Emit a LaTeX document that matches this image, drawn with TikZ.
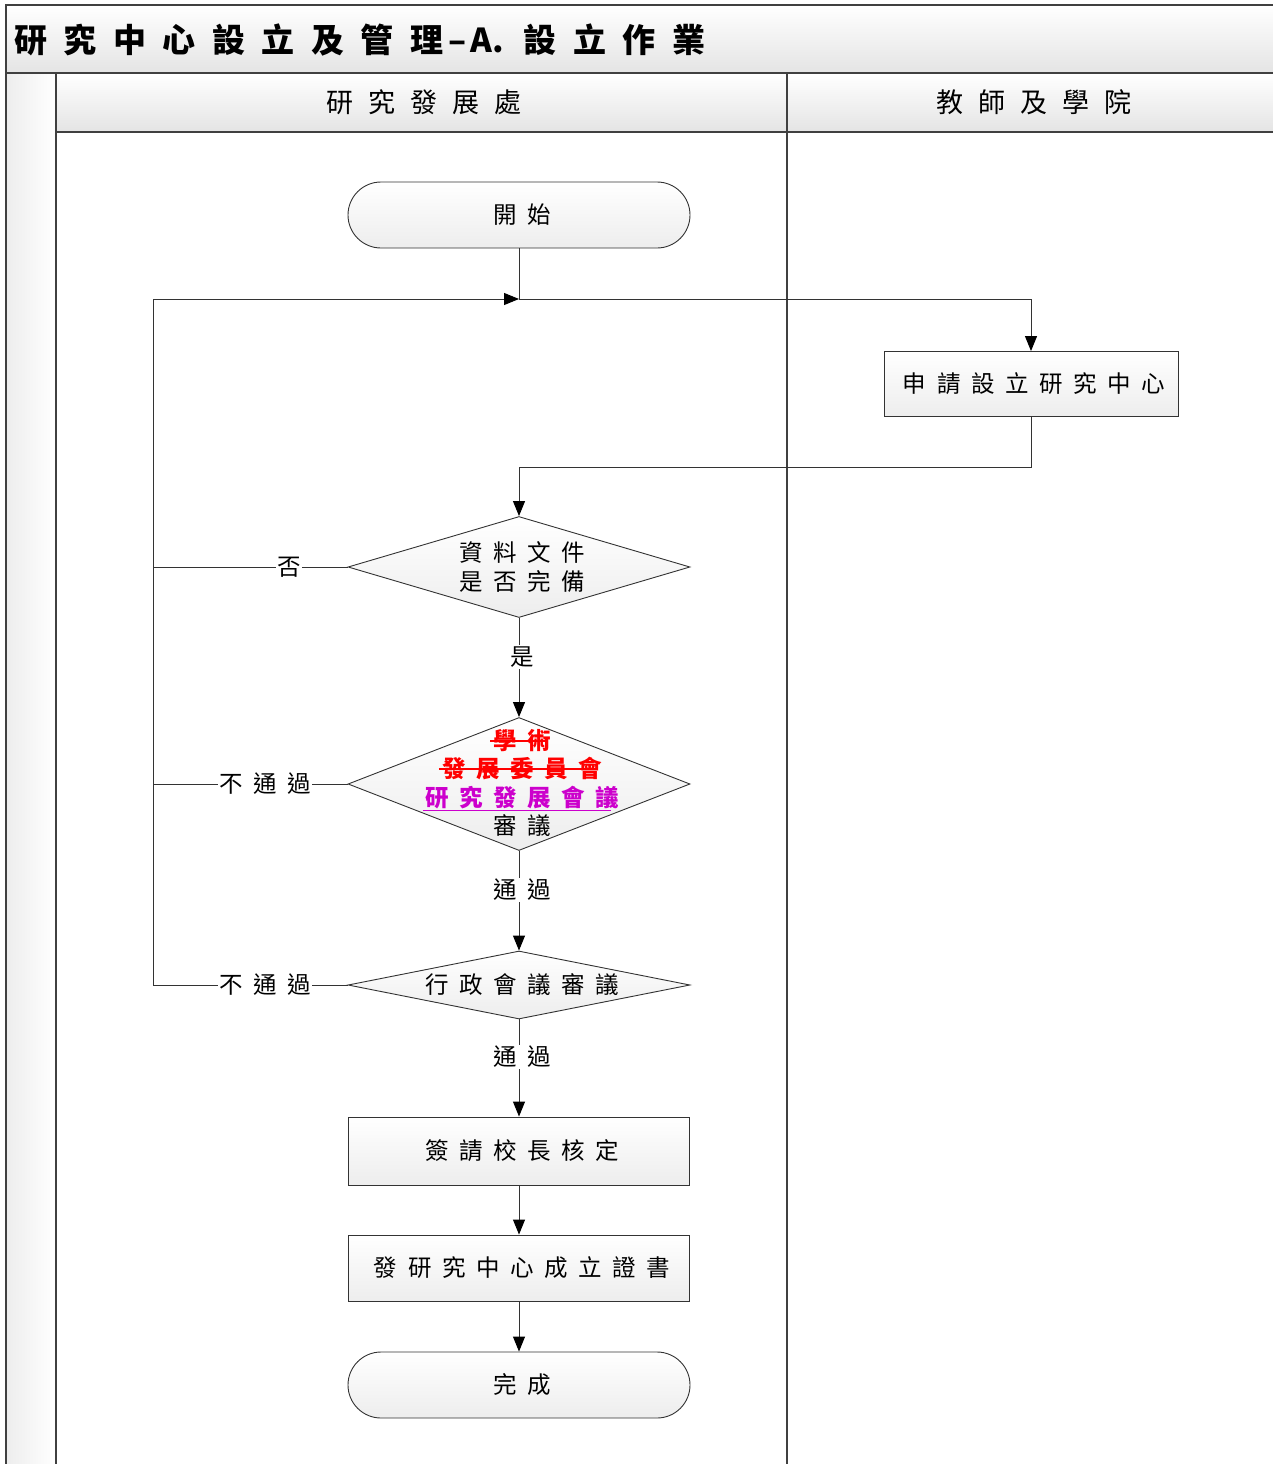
\documentclass[tikz,border=0pt]{standalone}
\usepackage{fontspec}
\usetikzlibrary{shapes.geometric,arrows.meta,calc}
\newfontfamily\cjk[LetterSpace=45]{Noto Sans CJK TC}
\newfontfamily\cjkplain{Noto Sans CJK TC}
\newfontfamily\cjktitle[LetterSpace=50]{Noto Sans CJK TC}
\newfontfamily\cjkhead[LetterSpace=55]{Noto Sans CJK TC}
\definecolor{edge}{HTML}{404040}
\definecolor{shadeB}{HTML}{E4E4E4}
\definecolor{shapeB}{HTML}{EDEDED}
\definecolor{mag}{HTML}{CC00CC}
\begin{document}
\begin{tikzpicture}[x=1pt,y=-1pt,
  band/.style={draw=edge, line width=1.3pt, top color=white, bottom color=shadeB},
  laneline/.style={draw=edge, line width=1.3pt},
  proc/.style={draw=black!80, line width=0.9pt, top color=white, bottom color=shapeB, inner sep=0pt,
    font=\cjk\fontsize{23.5}{28.5}\selectfont, align=center},
  term/.style={proc, rounded corners=33pt},
  dia/.style={proc, shape=diamond},
  lbl/.style={fill=white, inner sep=1.5pt, font=\cjk\fontsize{23.5}{23.5}\selectfont},
  txt/.style={inner sep=0pt, font=\cjk\fontsize{23.5}{28.5}\selectfont, align=center},
  conn/.style={draw=black!80, line width=1pt},
  arr/.style={conn, -{Triangle[length=15pt,width=12pt,color=black]}}
]
\useasboundingbox (0,0) rectangle (1272,1464);
% frame, title band, lanes
\path[band] (6,5) rectangle (1275,73);
\node[anchor=west, inner sep=0pt, font=\cjktitle\bfseries\fontsize{33}{33}\selectfont] (title) at (14,40) {研究中心設立及管理{\cjkplain\bfseries\hspace{5pt}–\hspace{4pt}A.}\hspace{20pt}設立作業};
\path[draw=edge, line width=1.3pt, left color=shapeB, right color=white] (6,73) rectangle (56,1467);
\path[band] (56,73) rectangle (787,132);
\path[band] (787,73) rectangle (1275,132);
\node[inner sep=0pt, font=\cjkhead\fontsize{27}{27}\selectfont] (lane1) at (424,102) {研究發展處};
\node[inner sep=0pt, font=\cjkhead\fontsize{27}{27}\selectfont] (lane2) at (1034,102) {教師及學院};
\path[laneline] (56,132) rectangle (787,1467);
\path[laneline] (787,132) rectangle (1275,1467);

% nodes
\node[term, minimum width=342pt, minimum height=66pt] (start) at (519,215) {\hspace{6pt}開始};
\node[proc, minimum width=294pt, minimum height=65pt] (apply) at (1031,384) {\hspace{6pt}申請設立研究中心};
\node[dia, minimum width=342pt, minimum height=101pt] (d1) at (519,567) {};
\node[txt] (d1t) at (522,567) {資料文件\\是否完備};
\node[dia, minimum width=342pt, minimum height=133pt] (d2) at (519,784) {};
\node[txt, text=red, font=\cjk\bfseries\fontsize{23.5}{23.5}\selectfont] (d2a) at (522,741) {學術};
\node[txt, text=red, font=\cjk\bfseries\fontsize{23.5}{23.5}\selectfont] (d2b) at (522,769) {發展委員會};
\node[txt, text=mag, font=\cjk\bfseries\fontsize{23.5}{23.5}\selectfont] (d2c) at (522,798) {研究發展會議};
\node[txt] (d2d) at (522,826) {審議};
\draw[red, line width=1.2pt] ([xshift=-3pt]d2a.west) -- ([xshift=-6pt]d2a.east);
\draw[red, line width=1.2pt] ([xshift=-3pt]d2b.west) -- ([xshift=-6pt]d2b.east);
\draw[mag, line width=1.2pt] ([xshift=-2pt,yshift=-1pt]d2c.south west) -- ([xshift=-8pt,yshift=-1pt]d2c.south east);
\node[dia, minimum width=342pt, minimum height=68pt] (d3) at (519,985) {};
\node[txt] (d3t) at (522,985) {行政會議審議};
\node[proc, minimum width=341pt, minimum height=68pt] (sign) at (519,1151) {\hspace{6pt}簽請校長核定};
\node[proc, minimum width=341pt, minimum height=66pt] (cert) at (519,1268) {\hspace{6pt}發研究中心成立證書};
\node[term, minimum width=342pt, minimum height=66pt] (end) at (519,1385) {\hspace{6pt}完成};

% junction coordinates
\coordinate (j1) at (519,299);
\coordinate (j2) at (519,467);
\coordinate (c1) at (153,567);
\coordinate (c2) at (153,784);
\coordinate (c3) at (153,985);
\coordinate (ctop) at (153,299);

% connectors
\draw[arr] (start.south) -- (j1) -| (apply.north);
\draw[arr] (apply.south) |- (j2) -- (d1.north);
\draw[conn] (d1.west) -- (c1);
\draw[conn] (d2.west) -- (c2);
\draw[arr] (d3.west) -- (c3) -- (ctop) -- (j1);
\draw[arr] (d1.south) -- (d2.north);
\draw[arr] (d2.south) -- (d3.north);
\draw[arr] (d3.south) -- (sign.north);
\draw[arr] (sign.south) -- (cert.north);
\draw[arr] (cert.south) -- (end.north);

% labels
\node[lbl] (no1) at (289,567) {否};
\node[lbl] (no2) at (265,784) {不通過};
\node[lbl] (no3) at (265,985) {不通過};
\node[lbl] (yes1) at (522,657) {是};
\node[lbl] (yes2) at (522,890) {通過};
\node[lbl] (yes3) at (522,1057) {通過};
\end{tikzpicture}
\end{document}
